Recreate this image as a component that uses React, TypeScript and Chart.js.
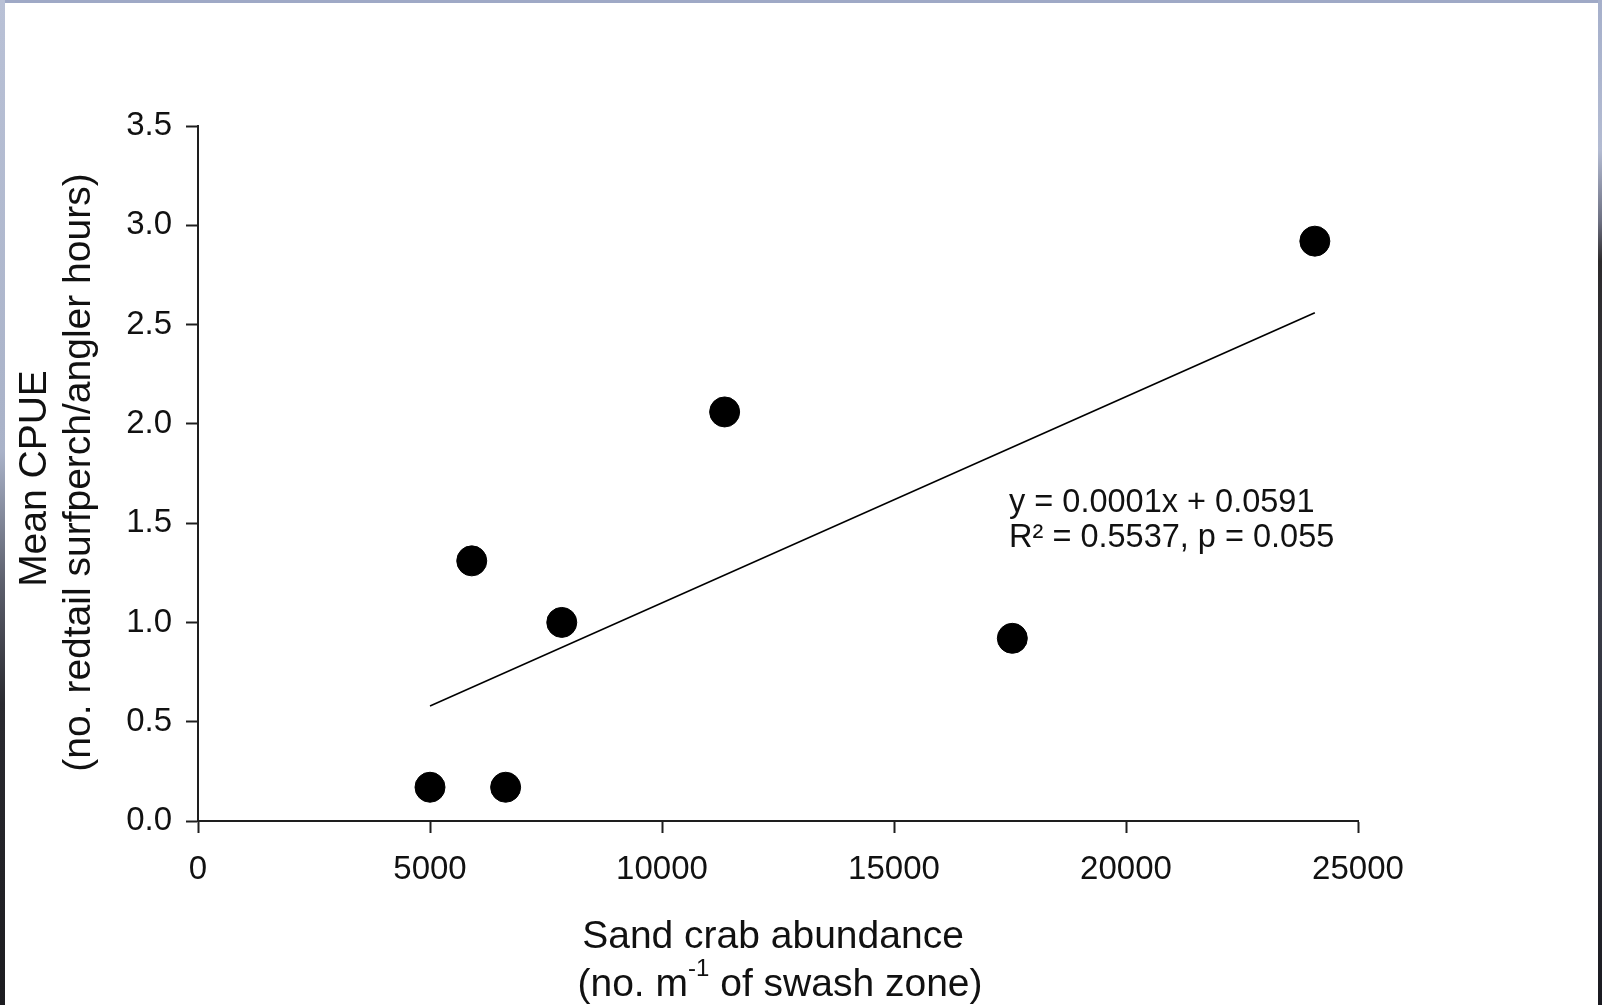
import React, { useEffect, useRef } from "react";
import { Chart, registerables } from "chart.js";

Chart.register(...registerables);

// Sand crab abundance (no. per m of swash zone) and mean CPUE per site
const crabAbundance = [5000, 6630, 5900, 7840, 11350, 17550, 24070];
const meanCpue = [0.17, 0.17, 1.31, 1.0, 2.06, 0.92, 2.92];

// Fitted regression line, drawn between the smallest and largest abundance
const trendX = [5000, 24070];
const trendY = [0.579, 2.56];

const xTicks = [0, 5000, 10000, 15000, 20000, 25000];
const yTicks = [0, 0.5, 1.0, 1.5, 2.0, 2.5, 3.0, 3.5];

const equationLines = ["y = 0.0001x + 0.0591", "R\u00B2 = 0.5537, p = 0.055"];
const equationAnchor = { x: 17480, y: 1.6 };

const yTitleLines = ["Mean CPUE", "(no. redtail surfperch/angler hours)"];
const xTitleLine1 = "Sand crab abundance";
const xTitleLine2 = { before: "(no. m", sup: "-1", after: " of swash zone)" };

const FONT = '"Liberation Sans", Arial, Helvetica, sans-serif';
const INK = "#111111";
const AXIS = "#1e1e1e";

const CANVAS_W = 1593;
const CANVAS_H = 1002;

const figureText = {
  id: "figureText",
  afterDraw(chart: any) {
    const { ctx, chartArea, scales } = chart;
    ctx.save();
    ctx.fillStyle = INK;

    // regression equation
    ctx.font = `32.5px ${FONT}`;
    ctx.textAlign = "left";
    ctx.textBaseline = "middle";
    const ex = scales.x.getPixelForValue(equationAnchor.x);
    const ey = scales.y.getPixelForValue(equationAnchor.y);
    ctx.fillText(equationLines[0], ex, ey);
    ctx.fillText(equationLines[1], ex, ey + 35);

    // x axis title, two lines, second with a superscript
    const cx = (chartArea.left + chartArea.right) / 2;
    ctx.font = `39px ${FONT}`;
    ctx.textAlign = "center";
    ctx.fillText(xTitleLine1, cx - 5, chartArea.bottom + 116);

    const mainFont = `39px ${FONT}`;
    const supFont = `24px ${FONT}`;
    ctx.font = mainFont;
    const wBefore = ctx.measureText(xTitleLine2.before).width;
    const wAfter = ctx.measureText(xTitleLine2.after).width;
    ctx.font = supFont;
    const wSup = ctx.measureText(xTitleLine2.sup).width;
    const total = wBefore + wSup + wAfter;
    let px = cx + 2 - total / 2;
    const py = chartArea.bottom + 164;
    ctx.textAlign = "left";
    ctx.font = mainFont;
    ctx.fillText(xTitleLine2.before, px, py);
    px += wBefore;
    ctx.font = supFont;
    ctx.fillText(xTitleLine2.sup, px, py - 16);
    px += wSup;
    ctx.font = mainFont;
    ctx.fillText(xTitleLine2.after, px, py);

    // y axis title, rotated
    const cy = (chartArea.top + chartArea.bottom) / 2;
    ctx.font = `39px ${FONT}`;
    ctx.textAlign = "center";
    const yPos = [30, 74];
    const yOff = [5, -1];
    yTitleLines.forEach((line, i) => {
      ctx.save();
      ctx.translate(yPos[i], cy + yOff[i]);
      ctx.rotate(-Math.PI / 2);
      ctx.fillText(line, 0, 0);
      ctx.restore();
    });

    ctx.restore();
  },
};

export default function App() {
  const canvasRef = useRef<HTMLCanvasElement | null>(null);

  useEffect(() => {
    if (!canvasRef.current) return;
    const chart = new Chart(canvasRef.current, {
      type: "scatter",
      data: {
        datasets: [
          {
            label: "Sites",
            data: crabAbundance.map((x, i) => ({ x, y: meanCpue[i] })),
            pointRadius: 15,
            pointHoverRadius: 15,
            pointBackgroundColor: "#000000",
            pointBorderColor: "#000000",
            pointBorderWidth: 1,
            showLine: false,
            order: 1,
          },
          {
            label: "Linear fit",
            data: trendX.map((x, i) => ({ x, y: trendY[i] })),
            showLine: true,
            pointRadius: 0,
            borderColor: "#000000",
            borderWidth: 1.6,
            order: 2,
          },
        ],
      },
      options: {
        responsive: false,
        animation: false,
        layout: { padding: { left: 0, top: 123, right: 240, bottom: 0 } },
        plugins: {
          legend: { display: false },
          tooltip: { enabled: false },
          title: { display: false },
        },
        scales: {
          x: {
            type: "linear",
            min: 0,
            max: 25000,
            afterFit: (scale: any) => {
              scale.height = 184;
            },
            afterBuildTicks: (scale: any) => {
              scale.ticks = xTicks.map((v) => ({ value: v }));
            },
            ticks: {
              color: INK,
              font: { family: FONT, size: 33 },
              padding: 17,
              maxRotation: 0,
              callback: (v: any) => String(v),
            },
            grid: {
              display: true,
              drawOnChartArea: false,
              drawTicks: true,
              tickLength: 12,
              tickWidth: 2,
              tickColor: AXIS,
              color: AXIS,
            },
            border: { display: true, color: AXIS, width: 2 },
          },
          y: {
            type: "linear",
            min: 0,
            max: 3.5,
            afterFit: (scale: any) => {
              scale.width = 193;
            },
            afterBuildTicks: (scale: any) => {
              scale.ticks = yTicks.map((v) => ({ value: v }));
            },
            ticks: {
              color: INK,
              font: { family: FONT, size: 33 },
              padding: 14,
              callback: (v: any) => Number(v).toFixed(1),
            },
            grid: {
              display: true,
              drawOnChartArea: false,
              drawTicks: true,
              tickLength: 12,
              tickWidth: 2,
              tickColor: AXIS,
              color: AXIS,
            },
            border: { display: true, color: AXIS, width: 2 },
          },
        },
      },
      plugins: [figureText],
    });
    return () => chart.destroy();
  }, []);

  return (
    <div
      style={{
        position: "fixed",
        left: 0,
        top: 0,
        width: 1602,
        height: 1005,
        overflow: "hidden",
        background: "#9fa9c6",
      }}
    >
      {/* left edge strip */}
      <div
        style={{
          position: "absolute",
          left: 0,
          top: 0,
          width: 5,
          height: 1005,
          background:
            "linear-gradient(to bottom, #b9c1d6 0%, #a9b2c8 45%, #5c5f6c 58%, #2a2a30 70%, #1c1c20 100%)",
        }}
      />
      {/* right edge strip */}
      <div
        style={{
          position: "absolute",
          left: 1598,
          top: 0,
          width: 4,
          height: 1005,
          background:
            "linear-gradient(to bottom, #a6b0cb 0%, #b3bbd2 15%, #6d7082 22%, #2c2a2c 26%, #3a3c48 60%, #2a2c36 80%, #1a1a20 100%)",
        }}
      />
      <div
        style={{
          position: "absolute",
          left: 5,
          top: 3,
          width: CANVAS_W,
          height: CANVAS_H,
          background: "#ffffff",
        }}
      >
        <canvas ref={canvasRef} width={CANVAS_W} height={CANVAS_H} style={{ display: "block" }} />
      </div>
    </div>
  );
}
